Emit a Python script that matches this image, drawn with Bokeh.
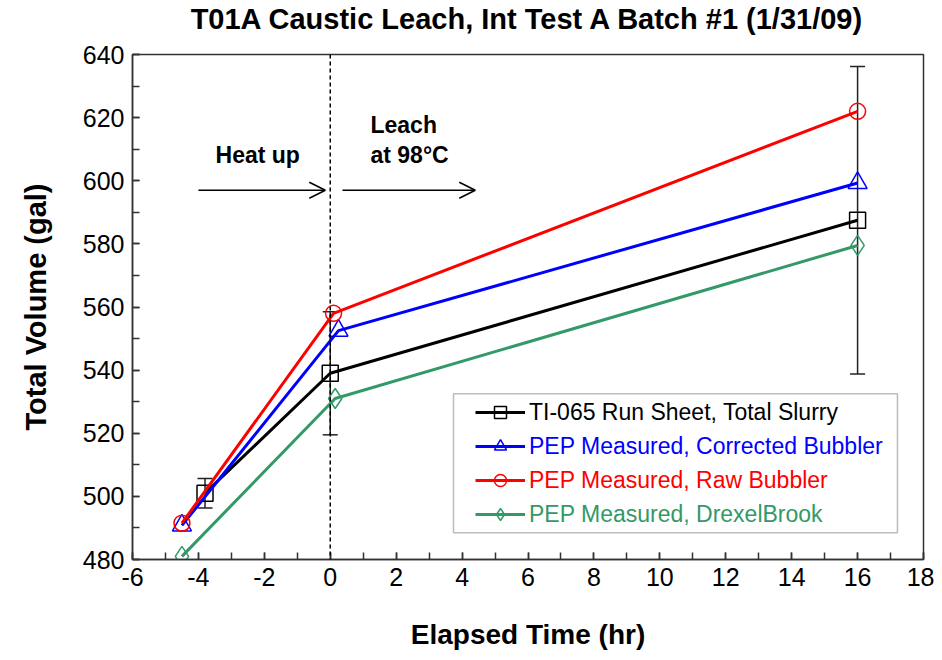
from bokeh.plotting import figure
from bokeh.models import (SingleIntervalTicker, Range1d, Span, Arrow, OpenHead, Label, Title,
                          Legend, LegendItem, Whisker, ColumnDataSource, BoxAnnotation, TeeHead,
                          PrintfTickFormatter)
from bokeh.embed import file_html
from bokeh.resources import INLINE

# ---------------- data ----------------
ti065_x = [-3.8, 0.0, 16.0]
ti065_y = [501.0, 539.0, 587.5]
ti065_err = [4.7, 19.5, 48.7]

corr_x = [-4.5, 0.25, 16.0]
corr_y = [490.8, 552.5, 599.3]

raw_x = [-4.5, 0.1, 16.0]
raw_y = [491.5, 558.0, 622.0]

drex_x = [-4.5, 0.15, 16.0]
drex_y = [481.0, 531.0, 579.5]

labels = ["TI-065 Run Sheet, Total Slurry",
          "PEP Measured, Corrected Bubbler",
          "PEP Measured, Raw Bubbler",
          "PEP Measured, DrexelBrook"]

TITLE = "T01A Caustic Leach, Int Test A Batch #1 (1/31/09)"

FONT = "Liberation Sans"

p = figure(width=934, height=652, x_range=Range1d(-6, 18), y_range=Range1d(480, 640),
           output_backend="svg", toolbar_location=None,
           min_border_left=132, min_border_right=11, min_border_top=54, min_border_bottom=92)

p.grid.visible = False
p.background_fill_color = "white"
p.border_fill_color = "white"
p.outline_line_color = "#333333"
p.outline_line_width = 1.5

# spacer between title and frame
p.add_layout(Title(text=" ", text_font_size="14px", standoff=2), "above")

p.title.text = TITLE
p.title.align = "center"
p.title.text_font = FONT
p.title.text_font_size = "29px"
p.title.text_font_style = "bold"
p.title.text_color = "black"
p.title.standoff = 0

p.xaxis.ticker = SingleIntervalTicker(interval=2, num_minor_ticks=2)
p.yaxis.ticker = SingleIntervalTicker(interval=20, num_minor_ticks=2)
p.xaxis.formatter = PrintfTickFormatter(format="%d")
p.yaxis.formatter = PrintfTickFormatter(format="%d")
p.xaxis.axis_label = "Elapsed Time (hr)"
p.yaxis.axis_label = "Total Volume (gal)"
for ax in (p.xaxis[0], p.yaxis[0]):
    ax.axis_line_color = "#333333"
    ax.axis_line_width = 1.5
    ax.major_tick_line_color = "#333333"
    ax.minor_tick_line_color = "#333333"
    ax.major_tick_line_width = 1.5
    ax.minor_tick_line_width = 1.5
    ax.major_tick_in = 7
    ax.major_tick_out = 0
    ax.minor_tick_in = 7
    ax.minor_tick_out = 0
    ax.major_label_text_font = FONT
    ax.major_label_text_font_size = "25px"
    ax.major_label_text_color = "black"
    ax.major_label_standoff = 8
    ax.axis_label_text_font = FONT
    ax.axis_label_text_font_style = "bold"
    ax.axis_label_text_color = "black"
p.xaxis.axis_label_text_font_size = "28px"
p.yaxis.axis_label_text_font_size = "29px"
p.xaxis.axis_label_standoff = 30
p.yaxis.axis_label_standoff = 28

# vertical dashed line at t = 0
p.add_layout(Span(location=0, dimension="height", line_color="black",
                  line_width=1.5, line_dash="4 3"))

# series
series = [
    (ti065_x, ti065_y, "black", "square", 16, labels[0]),
    (corr_x, corr_y, "#0000FF", "triangle", 19, labels[1]),
    (raw_x, raw_y, "#FF0000", "circle", 16, labels[2]),
    (drex_x, drex_y, "#339966", "diamond", 20, labels[3]),
]
rends = []
for xs, ys, col, mk, sz, lab in series:
    ln = p.line(xs, ys, line_color=col, line_width=3)
    sc = p.scatter(xs, ys, marker=mk, size=sz, line_color=col, line_width=1.5,
                   fill_color=None)
    rends.append((ln, sc, col, lab))

# error bars for TI-065
src = ColumnDataSource(dict(x=ti065_x,
                            upper=[y + e for y, e in zip(ti065_y, ti065_err)],
                            lower=[y - e for y, e in zip(ti065_y, ti065_err)]))
p.add_layout(Whisker(source=src, base="x", upper="upper", lower="lower", dimension="height",
                     line_color="#222222", line_width=1.5,
                     upper_head=TeeHead(size=15, line_width=1.5, line_color="#222222"),
                     lower_head=TeeHead(size=15, line_width=1.5, line_color="#222222")))

# annotations
ann = dict(text_font=FONT, text_font_size="23px", text_font_style="bold",
           text_baseline="alphabetic", text_color="black")
p.add_layout(Label(x=-3.48, y=608.2, text="Heat up", **ann))
p.add_layout(Label(x=1.22, y=617.7, text="Leach", **ann))
p.add_layout(Label(x=1.22, y=608.2, text="at 98°C", **ann))
p.add_layout(Arrow(end=OpenHead(size=16, line_width=1.5), x_start=-4.0, y_start=597,
                   x_end=-0.15, y_end=597, line_width=1.5, line_color="black"))
p.add_layout(Arrow(end=OpenHead(size=16, line_width=1.5), x_start=0.37, y_start=597,
                   x_end=4.4, y_end=597, line_width=1.5, line_color="black"))

# legend box
p.add_layout(BoxAnnotation(left=3.74, right=17.21, bottom=488.5, top=532.5,
                           fill_color="white", fill_alpha=1.0,
                           line_color="#222222", line_width=1.5))
bottoms = [132, 98, 64, 30]
for (ln, sc, col, lab), b in zip(rends, bottoms):
    leg = Legend(items=[LegendItem(label=lab, renderers=[ln, sc])], location=(343, b),
                 border_line_color=None, background_fill_alpha=0, padding=0, margin=0,
                 spacing=0, glyph_width=50, glyph_height=30, label_height=30,
                 label_standoff=4, label_text_font=FONT, label_text_font_size="23px",
                 label_text_color=col)
    p.add_layout(leg)

open("out.html", "w").write(file_html(p, INLINE))
